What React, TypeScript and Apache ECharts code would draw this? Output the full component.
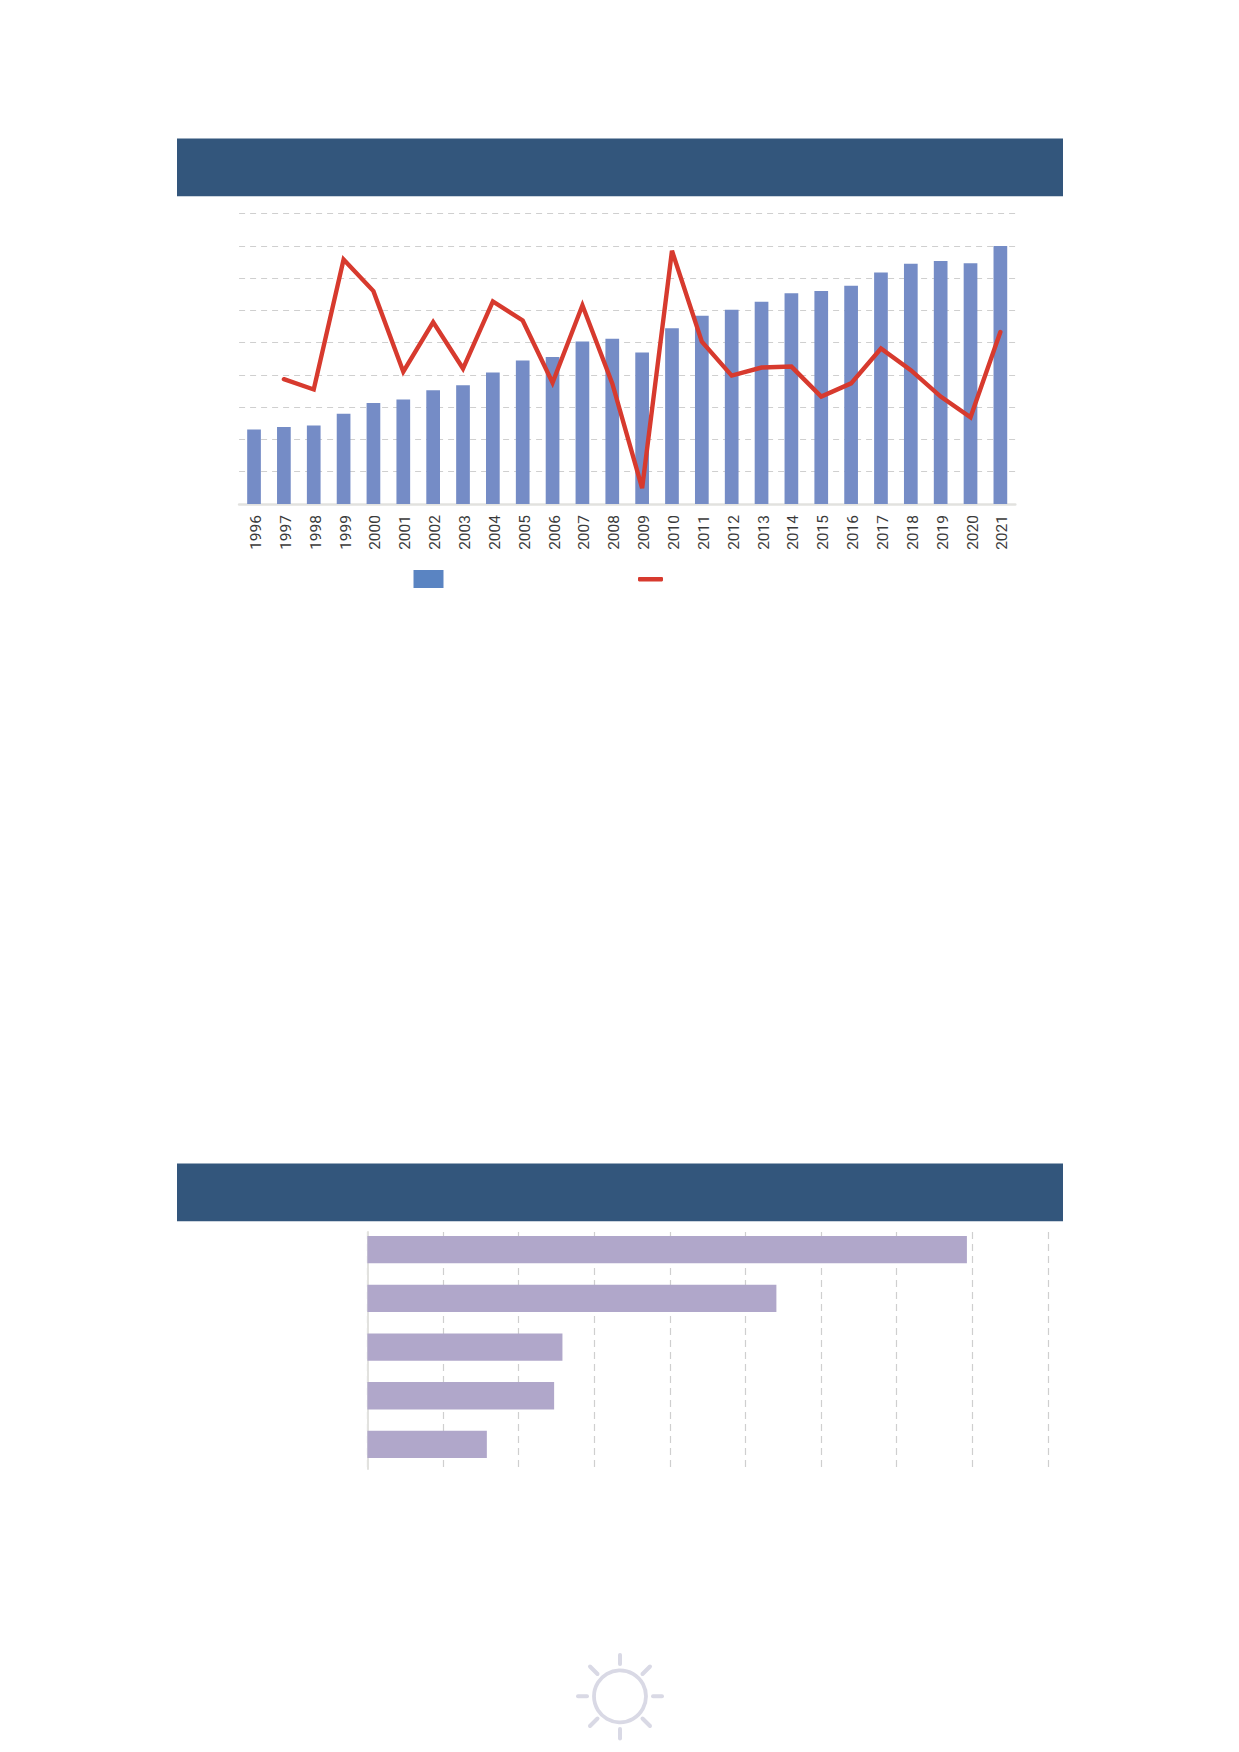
import React, { useEffect, useRef } from "react";
import * as echarts from "echarts";

const years = ["1996","1997","1998","1999","2000","2001","2002","2003","2004","2005","2006","2007","2008","2009","2010","2011","2012","2013","2014","2015","2016","2017","2018","2019","2020","2021"];
const barValues = [23.1,23.9,24.3,28.0,31.3,32.4,35.3,36.8,40.8,44.5,45.6,50.4,51.2,47.0,54.5,58.4,60.2,62.7,65.3,66.0,67.7,71.8,74.5,75.3,74.6,80.0];
const lineValues = [null,38.7,35.5,75.8,66.0,41.0,56.4,42.0,62.8,56.9,37.6,61.6,37.4,4.9,78.5,50.3,39.8,42.3,42.6,33.3,37.4,48.2,41.5,33.3,26.9,53.3];
const rankCategories = ["A","B","C","D","E"];
const rankValues = [79.3,54.1,25.8,24.7,15.8];

const HEADER = "#33567c";
const GRID = "#cfcfcf";
const AXIS = "#e2e2df";
const SUN = "#d9d9e5";

const ray = (x1: number, y1: number, x2: number, y2: number) => ({
  type: "line",
  shape: { x1, y1, x2, y2 },
  style: { stroke: SUN, lineWidth: 4, lineCap: "round" },
  silent: true,
});

export default function App() {
  const ref = useRef<HTMLDivElement>(null);
  useEffect(() => {
    const chart = echarts.init(ref.current!, undefined, { renderer: "svg" });
    chart.setOption({
      animation: false,
      backgroundColor: "#ffffff",
      legend: [
        {
          data: ["Bars"], left: 413.5, top: 570, itemWidth: 30, itemHeight: 18, itemGap: 0,
          padding: 0, icon: "rect", selectedMode: false, formatter: () => "",
          itemStyle: { color: "#5a84c2" },
        },
        {
          data: ["Line"], left: 638, top: 577, itemWidth: 25, itemHeight: 4.4, itemGap: 0,
          padding: 0, icon: "roundRect", selectedMode: false, formatter: () => "",
        },
      ],
      grid: [
        { left: 239.1, top: 213.7, width: 776.2, height: 290.3 },
        { left: 367.4, top: 1225.3, width: 680.4, height: 243.5 },
        { left: 367.4, top: 1232, width: 680.4, height: 237 },
      ],
      xAxis: [
        {
          type: "category", gridIndex: 0, data: years,
          axisLine: { lineStyle: { color: AXIS, width: 2.5 } },
          axisTick: { show: false },
          axisLabel: {
            rotate: 90, margin: 11, interval: 0, fontSize: 15.5, color: "#3a3a3a",
            fontFamily: "Roboto, sans-serif", verticalAlign: "top", lineHeight: 4,
          },
          splitLine: { show: false },
        },
        {
          type: "value", gridIndex: 1, min: 0, max: 90, interval: 10,
          axisLine: { show: false }, axisTick: { show: false }, axisLabel: { show: false },
          splitLine: { show: false },
        },
        {
          type: "value", gridIndex: 2, min: 0, max: 90, interval: 10,
          axisLine: { show: false }, axisTick: { show: false }, axisLabel: { show: false },
          splitLine: { show: true, lineStyle: { color: GRID, type: [7, 5], width: 1.2 } },
        },
      ],
      yAxis: [
        {
          type: "value", gridIndex: 0, min: 0, max: 90, interval: 10,
          axisLine: { show: false }, axisTick: { show: false }, axisLabel: { show: false },
          splitLine: { show: true, lineStyle: { color: GRID, type: [6, 5], width: 1.2 } },
        },
        {
          type: "category", gridIndex: 1, data: rankCategories, inverse: true,
          axisLine: { show: false }, axisTick: { show: false }, axisLabel: { show: false },
          splitLine: { show: false },
        },
        {
          type: "category", gridIndex: 2, data: [""],
          axisLine: { show: true, lineStyle: { color: AXIS, width: 2 } },
          axisTick: { show: false }, axisLabel: { show: false },
          splitLine: { show: false },
        },
      ],
      series: [
        {
          name: "Bars", type: "bar", xAxisIndex: 0, yAxisIndex: 0, data: barValues,
          barWidth: 13.7, itemStyle: { color: "#758cc6" }, z: 2,
        },
        {
          name: "Line", type: "line", xAxisIndex: 0, yAxisIndex: 0, data: lineValues,
          symbol: "none", itemStyle: { color: "#d73a2e" },
          lineStyle: { color: "#d73a2e", width: 4.4, cap: "round", join: "miter" }, z: 3,
        },
        {
          name: "Rank", type: "bar", xAxisIndex: 1, yAxisIndex: 1, data: rankValues,
          barWidth: 27.3, itemStyle: { color: "#b0a7ca" }, z: 3,
        },
      ],
      graphic: [
        { type: "rect", shape: { x: 177, y: 138.5, width: 886, height: 57.7 }, style: { fill: HEADER }, silent: true },
        { type: "rect", shape: { x: 177, y: 1163.6, width: 886, height: 57.7 }, style: { fill: HEADER }, silent: true },
        { type: "circle", shape: { cx: 620, cy: 1696.3, r: 26 }, style: { fill: "none", stroke: SUN, lineWidth: 3.8 }, silent: true },
        ray(620, 1655, 620, 1664),
        ray(620, 1729, 620, 1738.5),
        ray(578, 1696.3, 587, 1696.3),
        ray(653, 1696.3, 662, 1696.3),
        ray(590, 1666.5, 597.5, 1674),
        ray(650, 1666.5, 642.5, 1674),
        ray(590, 1726, 597.5, 1718.5),
        ray(650, 1726, 642.5, 1718.5),
      ],
    });
    return () => chart.dispose();
  }, []);
  return <div ref={ref} style={{ position: "absolute", left: 0, top: 0, width: 1239, height: 1752 }} />;
}
